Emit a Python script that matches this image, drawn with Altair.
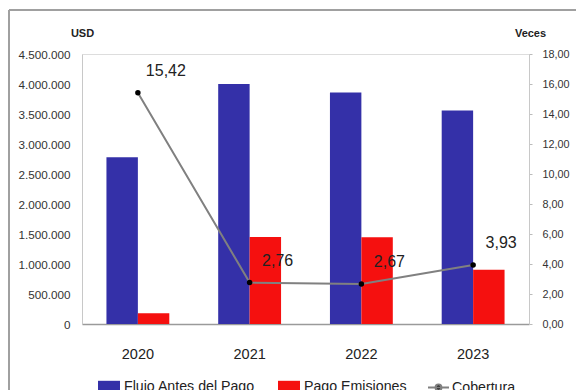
import altair as alt
import pandas as pd

# Values per year
years = ["2020", "2021", "2022", "2023"]
flujo = [2780000, 4000000, 3860000, 3560000]
pago = [180000, 1450000, 1445000, 906000]
cobertura = [15.42, 2.76, 2.67, 3.93]

series = ["Flujo Antes del Pago", "Pago Emisiones"]
bar_colors = ["#3430A8", "#F5100F"]

FONT = "Liberation Sans, Arial, sans-serif"

# Legend glyph for the coverage series: a short line with a dot in the middle
LINE_DOT = "M-1,0H1M0.28,0A0.28,0.28,0,1,1,-0.28,0A0.28,0.28,0,1,1,0.28,0Z"

bars_df = pd.DataFrame(
    [{"year": y, "serie": series[0], "usd": v} for y, v in zip(years, flujo)]
    + [{"year": y, "serie": series[1], "usd": v} for y, v in zip(years, pago)]
)
cob_df = pd.DataFrame({"year": years, "cob": cobertura})
cob_df["linea"] = "Cobertura"

x_scale = alt.Scale(domain=years, paddingInner=0.4375, paddingOuter=0.21875)
x_axis = alt.Axis(
    title=None, labelAngle=0, tickSize=0, labelPadding=23, labelFontSize=14.5,
    labelFont=FONT, labelColor="#222222", domainColor="#9a9a9a", domainWidth=1.5,
    grid=False,
)

bars = alt.Chart(bars_df).mark_bar().encode(
    x=alt.X("year:N", scale=x_scale, axis=x_axis),
    xOffset=alt.XOffset("serie:N", scale=alt.Scale(domain=series, paddingInner=0, paddingOuter=0)),
    y=alt.Y(
        "usd:Q",
        scale=alt.Scale(domain=[0, 4500000], nice=False),
        axis=alt.Axis(
            values=list(range(0, 4500001, 500000)),
            labelExpr="replace(format(datum.value, ',d'), regexp(',', 'g'), '.')",
            title="USD", titleAngle=0, titleX=0, titleY=-21, titleAlign="center",
            titleBaseline="middle", titleFont=FONT, titleFontSize=11, titleFontWeight="bold",
            titleColor="#222222",
            labelFont=FONT, labelFontSize=11.7, labelColor="#333333", labelPadding=12,
            tickSize=0, domainColor="#c8c8c8", grid=False,
        ),
    ),
    color=alt.Color(
        "serie:N",
        scale=alt.Scale(domain=series, range=bar_colors),
        legend=alt.Legend(
            title=None, orient="none", legendX=16, legendY=322, direction="horizontal",
            symbolType="M-1,-0.6H1V0.6H-1Z", symbolSize=484, symbolStrokeWidth=0,
            labelFont=FONT, labelFontSize=14.2, labelColor="#222222", labelOffset=4,
            columnPadding=23, padding=0,
        ),
    ),
)

right_axis = alt.Axis(
    orient="right", values=list(range(0, 19, 2)),
    labelExpr="replace(format(datum.value, '.2f'), '.', ',')",
    title="Veces", titleAngle=0, titleX=1, titleY=-21, titleAlign="center",
    titleBaseline="middle", titleFont=FONT, titleFontSize=11, titleFontWeight="bold",
    titleColor="#222222",
    labelFont=FONT, labelFontSize=10.8, labelColor="#333333", labelPadding=10,
    tickSize=3, tickColor="#bbbbbb", domainColor="#c8c8c8", grid=False,
)
y_cob = alt.Y("cob:Q", scale=alt.Scale(domain=[0, 18], nice=False), axis=right_axis)

line = alt.Chart(cob_df).mark_line(strokeWidth=2).encode(
    x=alt.X("year:N", scale=x_scale, axis=x_axis),
    y=y_cob,
    stroke=alt.Stroke(
        "linea:N",
        scale=alt.Scale(domain=["Cobertura"], range=["#808080"]),
        legend=alt.Legend(
            title=None, orient="none", legendX=345, legendY=322,
            symbolType=LINE_DOT, symbolSize=441, symbolFillColor="#000000",
            symbolStrokeWidth=2, symbolOpacity=1,
            labelFont=FONT, labelFontSize=14.2, labelColor="#222222", labelOffset=2,
            padding=0,
        ),
    ),
)

points = alt.Chart(cob_df).mark_point(filled=True, size=30, opacity=1, color="#000000").encode(
    x=alt.X("year:N", scale=x_scale, axis=x_axis),
    y=y_cob,
)

labels = alt.Chart(cob_df).transform_calculate(
    txt="replace(format(datum.cob, '.2f'), '.', ',')"
).mark_text(
    dx=28, dy=-22, font=FONT, fontSize=16, color="#222222"
).encode(
    x=alt.X("year:N", scale=x_scale, axis=x_axis),
    y=y_cob,
    text="txt:N",
)

# Outer frame (top and left edges)
frame_df = pd.DataFrame({"k": [0]})
frame_top = alt.Chart(frame_df).mark_rule(color="#a0a0a0", strokeWidth=2).encode(
    x=alt.value(-73), x2=alt.value(494), y=alt.value(-44)
)
frame_left = alt.Chart(frame_df).mark_rule(color="#a0a0a0", strokeWidth=2).encode(
    x=alt.value(-73), y=alt.value(-44), y2=alt.value(336)
)

right_layer = alt.layer(line, points, labels)

chart = alt.layer(frame_top, frame_left, bars, right_layer).resolve_scale(
    y="independent"
).properties(
    width=447, height=270,
    autosize=alt.AutoSizeParams(type="none"),
    padding={"left": 82, "top": 54, "right": 47, "bottom": 66},
).configure_view(stroke=None).configure(background="white")

chart.save("out.html", embed_options={"renderer": "svg", "actions": False})
